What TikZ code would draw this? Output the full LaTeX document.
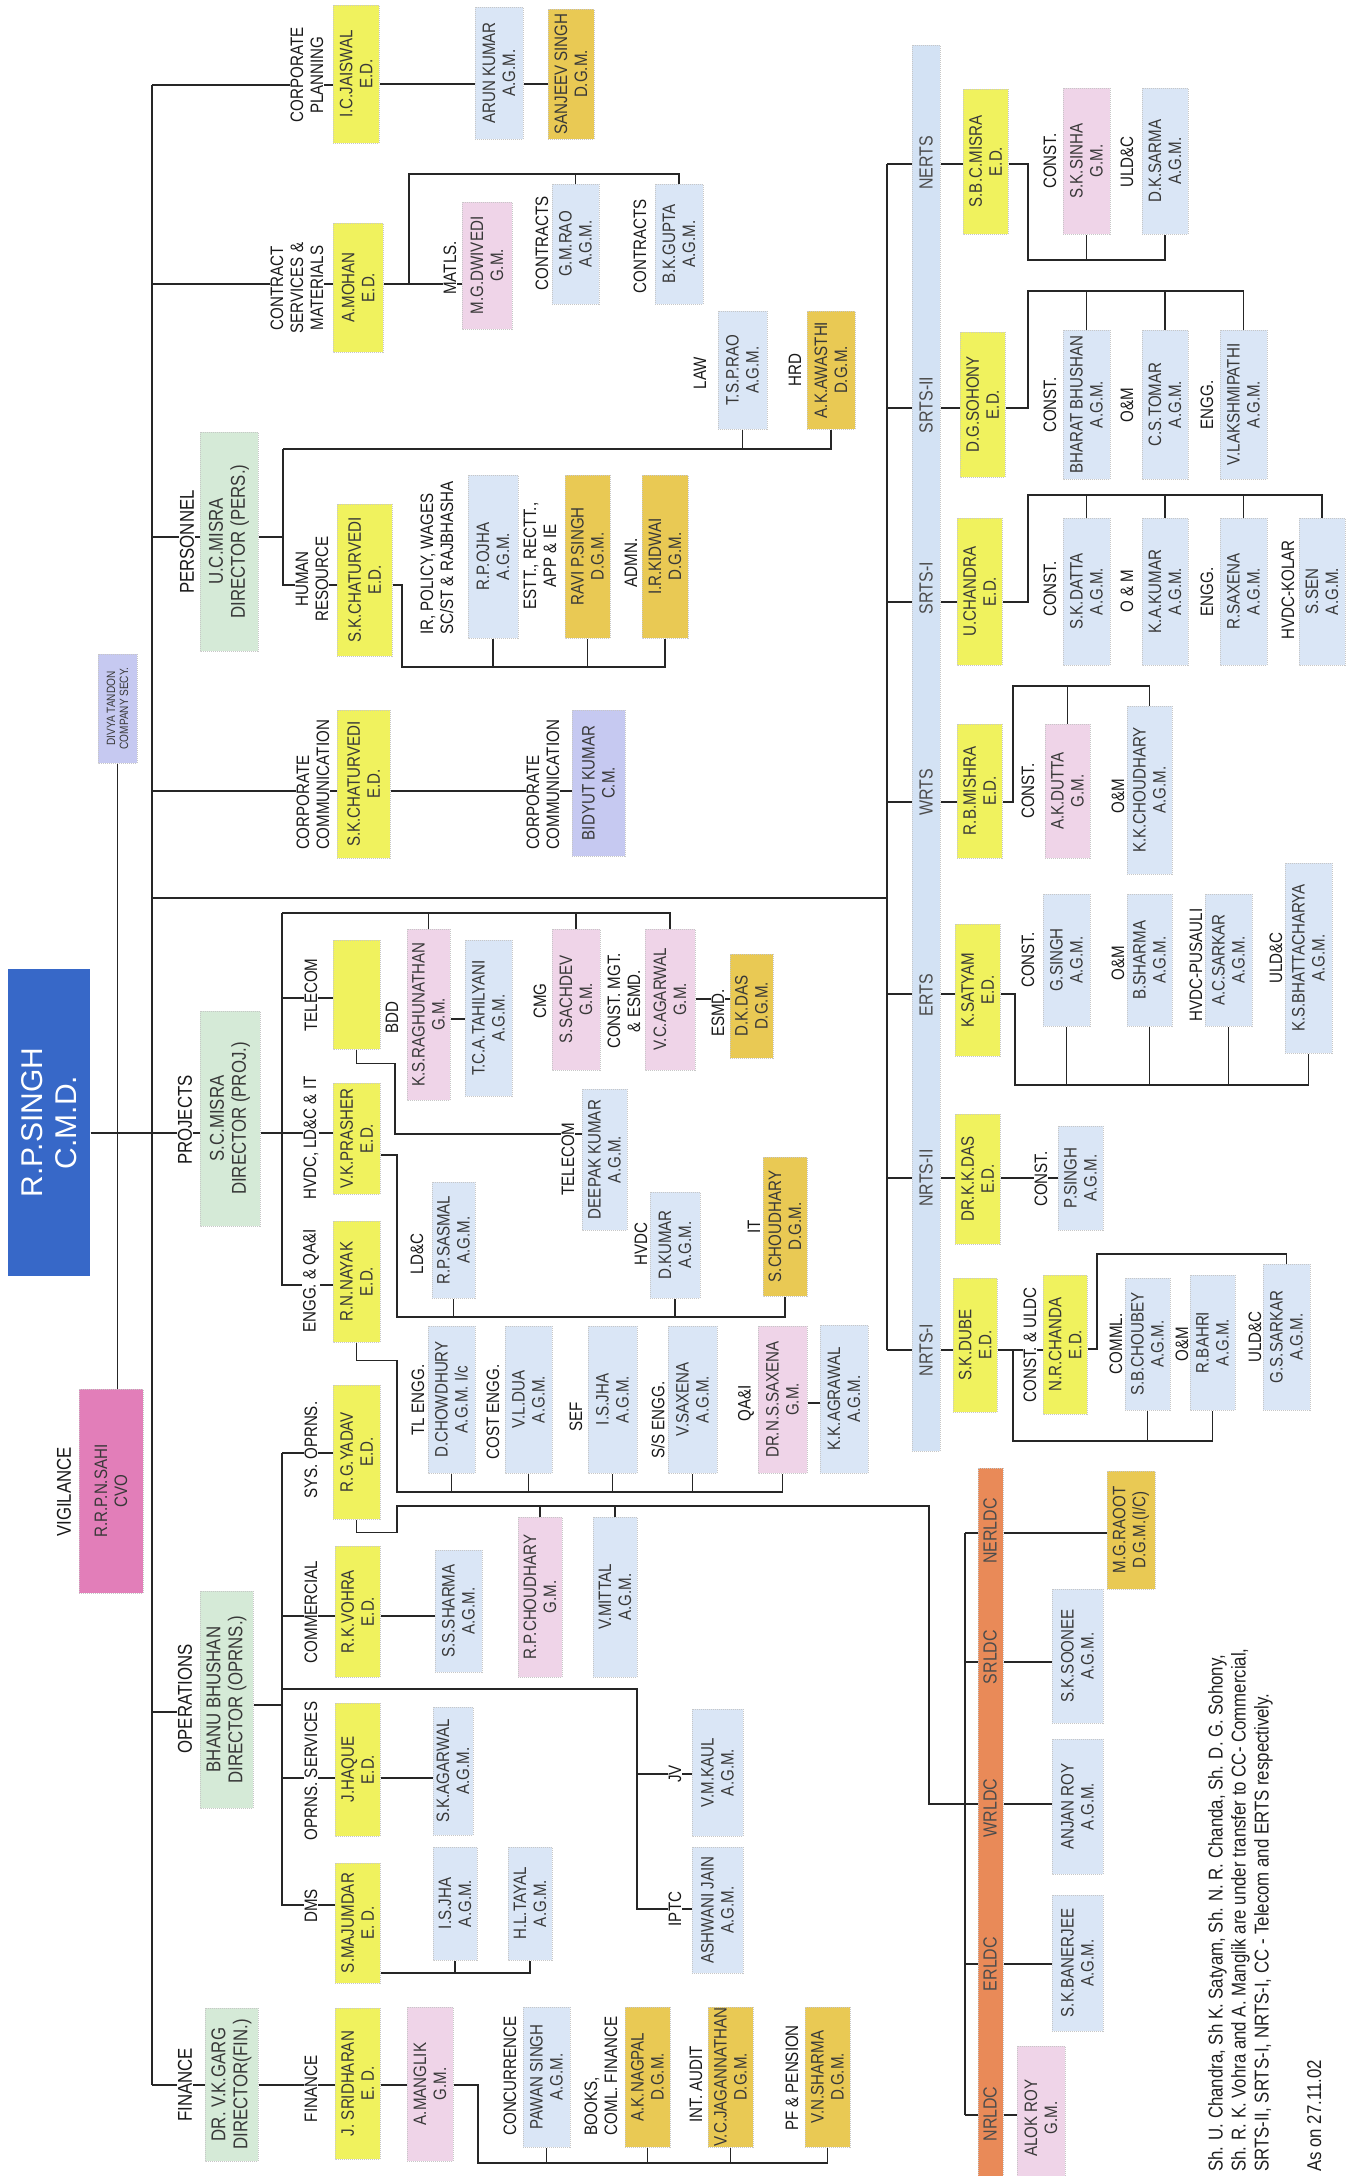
\documentclass[tikz,border=0pt]{standalone}
\usepackage{fontspec}
\setmainfont{Liberation Sans}[FakeStretch=0.84]
\newfontfamily\cmdfont{Liberation Sans}
\usetikzlibrary{calc}
\definecolor{edyel}{HTML}{F0F25E}
\definecolor{dgm}{HTML}{E9C954}
\definecolor{agm}{HTML}{DAE6F6}
\definecolor{gm}{HTML}{EFD4E8}
\definecolor{dir}{HTML}{D5EAD7}
\definecolor{lav}{HTML}{C6C9F1}
\definecolor{cmdb}{HTML}{3768C8}
\definecolor{cvo}{HTML}{E27EB9}
\definecolor{rts}{HTML}{D3E2F4}
\definecolor{ldc}{HTML}{E98A58}
\tikzset{
  box/.style={rotate=90, draw=black!22, densely dotted, line width=1pt, inner sep=0pt, align=center, text=black!78, font=\fontsize{18}{20}\selectfont},
  lbl/.style={rotate=90, inner sep=1pt, align=center, fill=white, text=black!90, font=\fontsize{18}{20}\selectfont},
  big/.style={font=\fontsize{20}{22}\selectfont},
  barlbl/.style={rotate=90, inner sep=0pt, text=black!70, font=\fontsize{19}{21}\selectfont},
  conn/.style={line width=1.5pt, draw=black!85, solid},
}
\newcommand\bx[8][]{\node[box,fill=#7,minimum width={(#6-#4)*1pt},minimum height={(#5-#3)*1pt},#1] (#2) at ({(#3+#5)/2},{(#4+#6)/2}) {#8};}
\newcommand\lb[4][]{\node[lbl,#1] (#2) at (#3) {#4};}
\begin{document}
\begin{tikzpicture}[x=1pt,y=-1pt]
\useasboundingbox (0,0) rectangle (1358,2176);
\clip (0,0) rectangle (1358,2176);
\fill[white] (0,0) rectangle (1358,2176);
% ---------- boxes ----------
\bx[text=white,draw=none,font=\cmdfont\fontsize{30}{34}\selectfont]{cmd}{8}{969}{90}{1276}{cmdb}{R.P.SINGH\\C.M.D.}
\bx[font=\fontsize{12}{13}\selectfont]{divya}{98}{654}{137}{763}{lav}{DIVYA TANDON\\COMPANY SECY.}
\bx{sahi}{79}{1389}{143}{1593}{cvo}{R.R.P.N.SAHI\\CVO}
\bx{jaiswal}{333}{5}{379}{143}{edyel}{I.C.JAISWAL\\E.D.}
\bx{arun}{475}{7}{523}{139}{agm}{ARUN KUMAR\\A.G.M.}
\bx{sanjeev}{548}{9}{594}{139}{dgm}{SANJEEV SINGH\\D.G.M.}
\bx{mohan}{333}{223}{383}{352}{edyel}{A.MOHAN\\E.D.}
\bx{dwivedi}{462}{202}{512}{329}{gm}{M.G.DWIVEDI\\G.M.}
\bx{gmrao}{552}{184}{599}{304}{agm}{G.M.RAO\\A.G.M.}
\bx{bkgupta}{655}{184}{703}{304}{agm}{B.K.GUPTA\\A.G.M.}
\bx[font=\fontsize{20}{22}\selectfont]{ucmisra}{200}{432}{258}{651}{dir}{U.C.MISRA\\DIRECTOR (PERS.)}
\bx{skc1}{337}{504}{392}{656}{edyel}{S.K.CHATURVEDI\\E.D.}
\bx{ojha}{468}{475}{518}{638}{agm}{R.P.OJHA\\A.G.M.}
\bx{ravi}{565}{475}{610}{638}{dgm}{RAVI P.SINGH\\D.G.M.}
\bx{kidwai}{642}{475}{688}{638}{dgm}{I.R.KIDWAI\\D.G.M.}
\bx{tsprao}{718}{311}{767}{429}{agm}{T.S.P.RAO\\A.G.M.}
\bx{awasthi}{807}{311}{855}{429}{dgm}{A.K.AWASTHI\\D.G.M.}
\bx{skc2}{337}{710}{390}{858}{edyel}{S.K.CHATURVEDI\\E.D.}
\bx{bidyut}{572}{710}{625}{856}{lav}{BIDYUT KUMAR\\C.M.}
\bx[font=\fontsize{20}{22}\selectfont]{smisra}{200}{1011}{260}{1226}{dir}{S.C.MISRA\\DIRECTOR (PROJ.)}
\bx{telbox}{333}{940}{380}{1049}{edyel}{}
\bx{ksraghu}{407}{929}{450}{1100}{gm}{K.S.RAGHUNATHAN\\G.M.}
\bx{tahil}{465}{940}{512}{1096}{agm}{T.C.A.TAHILYANI\\A.G.M.}
\bx{sachdev}{552}{929}{600}{1070}{gm}{S.SACHDEV\\G.M.}
\bx{vcagarwal}{645}{929}{695}{1070}{gm}{V.C.AGARWAL\\G.M.}
\bx{dkdas}{730}{954}{773}{1058}{dgm}{D.K.DAS\\D.G.M.}
\bx{prasher}{333}{1083}{380}{1194}{edyel}{V.K.PRASHER\\E.D.}
\bx{nayak}{333}{1221}{380}{1342}{edyel}{R.N.NAYAK\\E.D.}
\bx{sasmal}{432}{1182}{475}{1298}{agm}{R.P.SASMAL\\A.G.M.}
\bx{deepak}{582}{1089}{627}{1230}{agm}{DEEPAK KUMAR\\A.G.M.}
\bx{dkumar}{650}{1192}{700}{1298}{agm}{D.KUMAR\\A.G.M.}
\bx{schoud}{763}{1157}{807}{1296}{dgm}{S.CHOUDHARY\\D.G.M.}
\bx{dchow}{428}{1326}{475}{1473}{agm}{D.CHOWDHURY\\A.G.M. I/c}
\bx{vldua}{505}{1326}{552}{1473}{agm}{V.L.DUA\\A.G.M.}
\bx{isjha}{588}{1326}{637}{1473}{agm}{I.S.JHA\\A.G.M.}
\bx{vsaxena}{668}{1326}{717}{1473}{agm}{V.SAXENA\\A.G.M.}
\bx{dnsaxena}{758}{1326}{807}{1473}{gm}{DR.N.S.SAXENA\\G.M.}
\bx{kkagrawal}{820}{1325}{868}{1473}{agm}{K.K.AGRAWAL\\A.G.M.}
\bx[font=\fontsize{20}{22}\selectfont]{bhanu}{200}{1591}{253}{1808}{dir}{BHANU BHUSHAN\\DIRECTOR (OPRNS.)}
\bx{yadav}{333}{1385}{380}{1519}{edyel}{R.G.YADAV\\E.D.}
\bx{rpchoud}{518}{1517}{562}{1677}{gm}{R.P.CHOUDHARY\\G.M.}
\bx{vmittal}{593}{1517}{637}{1677}{agm}{V.MITTAL\\A.G.M.}
\bx{vohra}{335}{1546}{380}{1677}{edyel}{R.K.VOHRA\\E.D.}
\bx{sssharma}{435}{1550}{482}{1672}{agm}{S.S.SHARMA\\A.G.M.}
\bx{haque}{335}{1703}{380}{1836}{edyel}{J.HAQUE\\E.D.}
\bx{skagarwal}{433}{1707}{473}{1835}{agm}{S.K.AGARWAL\\A.G.M.}
\bx{majumdar}{335}{1863}{380}{1983}{edyel}{S.MAJUMDAR\\E. D.}
\bx{isjha2}{433}{1847}{477}{1960}{agm}{I.S.JHA\\A.G.M.}
\bx{hltayal}{508}{1847}{552}{1960}{agm}{H.L.TAYAL\\A.G.M.}
\bx{kaul}{692}{1709}{743}{1836}{agm}{V.M.KAUL\\A.G.M.}
\bx{ashwani}{692}{1847}{743}{1973}{agm}{ASHWANI JAIN\\A.G.M.}
\bx[font=\fontsize{20}{22}\selectfont]{garg}{205}{2008}{258}{2161}{dir}{DR. V.K.GARG\\DIRECTOR(FIN.)}
\bx{sridharan}{335}{2008}{380}{2159}{edyel}{J. SRIDHARAN\\E. D.}
\bx{manglik}{407}{2007}{453}{2161}{gm}{A.MANGLIK\\G.M.}
\bx{pawan}{523}{2007}{570}{2147}{agm}{PAWAN SINGH\\A.G.M.}
\bx{nagpal}{625}{2007}{670}{2147}{dgm}{A.K.NAGPAL\\D.G.M.}
\bx{jagan}{708}{2007}{753}{2147}{dgm}{V.C.JAGANNATHAN\\D.G.M.}
\bx{vnsharma}{805}{2007}{850}{2147}{dgm}{V.N.SHARMA\\D.G.M.}
\bx{rtsbar}{912}{45}{940}{1451}{rts}{}
\bx{sbcmisra}{963}{89}{1008}{234}{edyel}{S.B.C.MISRA\\E.D.}
\bx{sksinha}{1063}{88}{1110}{234}{gm}{S.K.SINHA\\G.M.}
\bx{dksarma}{1142}{88}{1188}{234}{agm}{D.K.SARMA\\A.G.M.}
\bx{sohony}{960}{332}{1005}{477}{edyel}{D.G.SOHONY\\E.D.}
\bx{bharat}{1063}{330}{1110}{479}{agm}{BHARAT BHUSHAN\\A.G.M.}
\bx{cstomar}{1142}{330}{1188}{479}{agm}{C.S.TOMAR\\A.G.M.}
\bx{vlak}{1220}{330}{1267}{479}{agm}{V.LAKSHMIPATHI\\A.G.M.}
\bx{uchandra}{957}{518}{1002}{665}{edyel}{U.CHANDRA\\E.D.}
\bx{skdatta}{1063}{518}{1110}{665}{agm}{S.K.DATTA\\A.G.M.}
\bx{kakumar}{1142}{518}{1188}{665}{agm}{K.A.KUMAR\\A.G.M.}
\bx{rsaxena}{1220}{518}{1267}{665}{agm}{R.SAXENA\\A.G.M.}
\bx{ssen}{1299}{518}{1345}{665}{agm}{S.SEN\\A.G.M.}
\bx{rbmishra}{957}{724}{1002}{858}{edyel}{R.B.MISHRA\\E.D.}
\bx{akdutta}{1045}{724}{1090}{858}{gm}{A.K.DUTTA\\G.M.}
\bx{kkchoud}{1127}{706}{1172}{874}{agm}{K.K.CHOUDHARY\\A.G.M.}
\bx{ksatyam}{955}{924}{1000}{1056}{edyel}{K.SATYAM\\E.D.}
\bx{gsingh}{1043}{894}{1090}{1026}{agm}{G.SINGH\\A.G.M.}
\bx{bsharma}{1127}{894}{1172}{1026}{agm}{B.SHARMA\\A.G.M.}
\bx{acsarkar}{1205}{894}{1252}{1026}{agm}{A.C.SARKAR\\A.G.M.}
\bx{ksbhatt}{1285}{863}{1332}{1053}{agm}{K.S.BHATTACHARYA\\A.G.M.}
\bx{kkdas}{955}{1114}{1000}{1244}{edyel}{DR.K.K.DAS\\E.D.}
\bx{psingh}{1058}{1126}{1103}{1230}{agm}{P.SINGH\\A.G.M.}
\bx{skdube}{953}{1278}{997}{1412}{edyel}{S.K.DUBE\\E.D.}
\bx{nrchanda}{1043}{1275}{1087}{1414}{edyel}{N.R.CHANDA\\E.D.}
\bx{sbchoubey}{1125}{1278}{1170}{1410}{agm}{S.B.CHOUBEY\\A.G.M.}
\bx{rbahri}{1190}{1275}{1235}{1410}{agm}{R.BAHRI\\A.G.M.}
\bx{gssarkar}{1263}{1264}{1310}{1410}{agm}{G.S.SARKAR\\A.G.M.}
\bx{ldcbar}{978}{1468}{1003}{2190}{ldc}{}
\bx{raoot}{1107}{1471}{1155}{1589}{dgm}{M.G.RAOOT\\D.G.M.(I/C)}
\bx{soonee}{1052}{1589}{1103}{1723}{agm}{S.K.SOONEE\\A.G.M.}
\bx{anjan}{1052}{1739}{1103}{1874}{agm}{ANJAN ROY\\A.G.M.}
\bx{banerjee}{1052}{1895}{1103}{2031}{agm}{S.K.BANERJEE\\A.G.M.}
\bx{alok}{1017}{2046}{1065}{2190}{gm}{ALOK ROY\\G.M.}
% ---------- connectors ----------
\draw[conn] (152,85) -- (152,2085);
\draw[conn] (152,85) -- (jaiswal.north |- 0,85);
\draw[conn] (jaiswal.south |- 0,84) -- (arun.north |- 0,84);
\draw[conn] (arun.south |- 0,84) -- (sanjeev.north |- 0,84);
\draw[conn] (152,284) -- (mohan.north |- 0,284);
\draw[conn] (mohan.south |- 0,284) -- (dwivedi.north |- 0,284);
\draw[conn] (409,284) -- (409,174) -- (bkgupta.east |- 0,174) -- (bkgupta.east);
\draw[conn] (gmrao.east |- 0,174) -- (gmrao.east);
\draw[conn] (152,537) -- (ucmisra.north |- 0,537);
\draw[conn] (ucmisra.south |- 0,537) -- (283,537);
\draw[conn] (283,449) -- (283,585) -- (skc1.north |- 0,585);
\draw[conn] (283,449) -- (awasthi.west |- 0,449) -- (awasthi.west);
\draw[conn] (tsprao.west |- 0,449) -- (tsprao.west);
\draw[conn] (skc1.south |- 0,585) -- (402,585) -- (402,667) -- (kidwai.west |- 0,667) -- (kidwai.west);
\draw[conn] (ojha.west |- 0,667) -- (ojha.west);
\draw[conn] (ravi.west |- 0,667) -- (ravi.west);
\draw[conn] (152,791) -- (skc2.north |- 0,791);
\draw[conn] (skc2.south |- 0,791) -- (bidyut.north |- 0,791);
\draw[conn] (divya.west) -- (divya.west |- sahi.east);
% RTS
\draw[conn] (152,898) -- (887,898);
\draw[conn] (887,164) -- (887,1350);
\foreach \yy in {164,408,602,802,994,1178,1350}{\draw[conn] (887,\yy) -- (rtsbar.north |- 0,\yy);}
\draw[conn] (rtsbar.south |- 0,164) -- (sbcmisra.north |- 0,164);
\draw[conn] (sbcmisra.south |- 0,164) -- (1028,164) -- (1028,260) -- (dksarma.west |- 0,260) -- (dksarma.west);
\draw[conn] (sksinha.west |- 0,260) -- (sksinha.west);
\draw[conn] (rtsbar.south |- 0,408) -- (sohony.north |- 0,408);
\draw[conn] (sohony.south |- 0,408) -- (1028,408) -- (1028,291) -- (vlak.east |- 0,291) -- (vlak.east);
\draw[conn] (bharat.east |- 0,291) -- (bharat.east);
\draw[conn] (cstomar.east |- 0,291) -- (cstomar.east);
\draw[conn] (rtsbar.south |- 0,602) -- (uchandra.north |- 0,602);
\draw[conn] (uchandra.south |- 0,602) -- (1028,602) -- (1028,495) -- (ssen.east |- 0,495) -- (ssen.east);
\draw[conn] (skdatta.east |- 0,495) -- (skdatta.east);
\draw[conn] (kakumar.east |- 0,495) -- (kakumar.east);
\draw[conn] (rsaxena.east |- 0,495) -- (rsaxena.east);
\draw[conn] (rtsbar.south |- 0,802) -- (rbmishra.north |- 0,802);
\draw[conn] (rbmishra.south |- 0,802) -- (1013,802) -- (1013,686) -- (kkchoud.east |- 0,686) -- (kkchoud.east);
\draw[conn] (akdutta.east |- 0,686) -- (akdutta.east);
\draw[conn] (rtsbar.south |- 0,994) -- (ksatyam.north |- 0,994);
\draw[conn] (ksatyam.south |- 0,994) -- (1015,994) -- (1015,1085) -- (ksbhatt.west |- 0,1085) -- (ksbhatt.west);
\draw[conn] (gsingh.west |- 0,1085) -- (gsingh.west);
\draw[conn] (bsharma.west |- 0,1085) -- (bsharma.west);
\draw[conn] (acsarkar.west |- 0,1085) -- (acsarkar.west);
\draw[conn] (rtsbar.south |- 0,1178) -- (kkdas.north |- 0,1178);
\draw[conn] (kkdas.south |- 0,1178) -- (psingh.north |- 0,1178);
\draw[conn] (rtsbar.south |- 0,1350) -- (skdube.north |- 0,1350);
\draw[conn] (skdube.south |- 0,1350) -- (nrchanda.north |- 0,1350);
\draw[conn] (1013,1350) -- (1013,1441) -- (rbahri.west |- 0,1441) -- (rbahri.west);
\draw[conn] (sbchoubey.west |- 0,1441) -- (sbchoubey.west);
\draw[conn] (nrchanda.south |- 0,1349) -- (1097,1349) -- (1097,1254) -- (gssarkar.east |- 0,1254) -- (gssarkar.east);
% Projects
\draw[conn] (cmd.south |- 0,1133) -- (smisra.north |- 0,1133);
\draw[conn] (smisra.south |- 0,1133) -- (prasher.north |- 0,1133);
\draw[conn] (282,913) -- (282,1285) -- (nayak.north |- 0,1285);
\draw[conn] (282,913) -- (vcagarwal.east |- 0,913) -- (vcagarwal.east);
\draw[conn] (ksraghu.east |- 0,913) -- (ksraghu.east);
\draw[conn] (sachdev.east |- 0,913) -- (sachdev.east);
\draw[conn] (282,998) -- (telbox.north |- 0,998);
\draw[conn] (ksraghu.south |- 0,1019) -- (tahil.north |- 0,1019);
\draw[conn] (vcagarwal.south |- 0,999) -- (dkdas.north |- 0,999);
\draw[conn] (telbox.west) -- ++(0,14) -| (395,1134) -- (deepak.north |- 0,1134);
\draw[conn] (prasher.south |- 0,1155) -- (397,1155) -- (397,1317) -- (schoud.west |- 0,1317) -- (schoud.west);
\draw[conn] (sasmal.west |- 0,1317) -- (sasmal.west);
\draw[conn] (dkumar.west |- 0,1317) -- (dkumar.west);
\draw[conn] (nayak.west) -- ++(0,18) -| (397,1492) -- (dnsaxena.west |- 0,1492) -- (dnsaxena.west);
\draw[conn] (dchow.west |- 0,1492) -- (dchow.west);
\draw[conn] (vldua.west |- 0,1492) -- (vldua.west);
\draw[conn] (isjha.west |- 0,1492) -- (isjha.west);
\draw[conn] (vsaxena.west |- 0,1492) -- (vsaxena.west);
\draw[conn] (dnsaxena.south |- 0,1403) -- (kkagrawal.north |- 0,1403);
% Operations
\draw[conn] (bhanu.south |- 0,1705) -- (282,1705);
\draw[conn] (282,1453) -- (282,1905) -- (majumdar.north |- 0,1905);
\draw[conn] (282,1453) -- (yadav.north |- 0,1453);
\draw[conn] (282,1616) -- (vohra.north |- 0,1616);
\draw[conn] (vohra.south |- 0,1616) -- (sssharma.north |- 0,1616);
\draw[conn] (282,1689) -- (637,1689) -- (637,1909) -- (ashwani.north |- 0,1909);
\draw[conn] (637,1774) -- (kaul.north |- 0,1774);
\draw[conn] (282,1778) -- (haque.north |- 0,1778);
\draw[conn] (haque.south |- 0,1778) -- (skagarwal.north |- 0,1778);
\draw[conn] (majumdar.south |- 0,1973) -- (hltayal.west |- 0,1973) -- (hltayal.west);
\draw[conn] (isjha2.west |- 0,1973) -- (isjha2.west);
\draw[conn] (yadav.west) -- ++(0,13) -| (397,1506) -- (929,1506) -- (929,1804) -- (965,1804);
\draw[conn] (rpchoud.east |- 0,1506) -- (rpchoud.east);
\draw[conn] (vmittal.east |- 0,1506) -- (vmittal.east);
% LDC
\draw[conn] (965,1533) -- (965,2115);
\foreach \yy in {1533,1662,1804,1964,2115}{\draw[conn] (965,\yy) -- (ldcbar.north |- 0,\yy);}
\draw[conn] (ldcbar.south |- 0,1533) -- (raoot.north |- 0,1533);
\draw[conn] (ldcbar.south |- 0,1662) -- (soonee.north |- 0,1662);
\draw[conn] (ldcbar.south |- 0,1804) -- (anjan.north |- 0,1804);
\draw[conn] (ldcbar.south |- 0,1964) -- (banerjee.north |- 0,1964);
\draw[conn] (ldcbar.south |- 0,2115) -- (alok.north |- 0,2115);
% Finance
\draw[conn] (152,2085) -- (garg.north |- 0,2085);
\draw[conn] (garg.south |- 0,2085) -- (sridharan.north |- 0,2085);
\draw[conn] (sridharan.south |- 0,2085) -- (manglik.north |- 0,2085);
\draw[conn] (manglik.south |- 0,2085) -- (478,2085) -- (478,2163) -- (vnsharma.west |- 0,2163) -- (vnsharma.west);
\draw[conn] (pawan.west |- 0,2163) -- (pawan.west);
\draw[conn] (nagpal.west |- 0,2163) -- (nagpal.west);
\draw[conn] (jagan.west |- 0,2163) -- (jagan.west);
% ---------- bar labels ----------
\node[barlbl] (bNERTS) at (926,163) {NERTS};
\node[barlbl] (bSRTS2) at (926,405) {SRTS-II};
\node[barlbl] (bSRTS1) at (926,588) {SRTS-I};
\node[barlbl] (bWRTS) at (926,792) {WRTS};
\node[barlbl] (bERTS) at (926,995) {ERTS};
\node[barlbl] (bNRTS2) at (926,1178) {NRTS-II};
\node[barlbl] (bNRTS1) at (926,1350) {NRTS-I};
\node[barlbl] (bNERLDC) at (990,1531) {NERLDC};
\node[barlbl] (bSRLDC) at (990,1657) {SRLDC};
\node[barlbl] (bWRLDC) at (990,1808) {WRLDC};
\node[barlbl] (bERLDC) at (990,1964) {ERLDC};
\node[barlbl] (bNRLDC) at (990,2114) {NRLDC};
% ---------- labels ----------
\lb{lCP}{307,75}{CORPORATE\\PLANNING}
\lb{lCSM}{297,288}{CONTRACT\\SERVICES \&\\MATERIALS}
\lb{lMAT}{450,268}{MATLS.}
\lb{lCON1}{542,243}{CONTRACTS}
\lb{lCON2}{640,246}{CONTRACTS}
\lb[big]{lPER}{187,542}{PERSONNEL}
\lb{lHR}{312,579}{HUMAN\\RESOURCE}
\lb[align=left]{lIR}{437,558}{IR, POLICY, WAGES\\SC/ST \& RAJBHASHA}
\lb{lEST}{540,556}{ESTT., RECTT.,\\APP \& IE}
\lb{lADM}{631,563}{ADMN.}
\lb{lLAW}{700,373}{LAW}
\lb{lHRD}{795,370}{HRD}
\lb[align=left]{lCC1}{313,785}{CORPORATE\\COMMUNICATION}
\lb[align=left]{lCC2}{543,785}{CORPORATE\\COMMUNICATION}
\lb{lc1}{1050,161}{CONST.}
\lb{lc2}{1127,162}{ULD\&C}
\lb{lc3}{1050,405}{CONST.}
\lb{lc4}{1127,405}{O\&M}
\lb{lc5}{1207,405}{ENGG.}
\lb{lc6}{1050,589}{CONST.}
\lb{lc7}{1127,591}{O \& M}
\lb{lc8}{1207,592}{ENGG.}
\lb{lc9}{1288,590}{HVDC-KOLAR}
\lb{lc10}{1028,791}{CONST.}
\lb{lc11}{1118,796}{O\&M}
\lb{lc12}{1028,960}{CONST.}
\lb{lc13}{1118,963}{O\&M}
\lb{lc14}{1196,965}{HVDC-PUSAULI}
\lb{lc15}{1276,958}{ULD\&C}
\lb{lc16}{1041,1179}{CONST.}
\lb{lc17}{1030,1345}{CONST. \& ULDC}
\lb{lc18}{1116,1344}{COMML.}
\lb{lc19}{1182,1344}{O\&M}
\lb{lc20}{1255,1337}{ULD\&C}
\lb[big]{lPRJ}{185,1120}{PROJECTS}
\lb{lTEL}{311,995}{TELECOM}
\lb{lBDD}{392,1018}{BDD}
\lb{lCMG}{540,1001}{CMG}
\lb{lCME}{624,1001}{CONST. MGT.\\\& ESMD.}
\lb{lESMD}{718,1013}{ESMD.}
\lb{lHLI}{311,1138}{HVDC, LD\&C \& IT}
\lb{lEQA}{311,1281}{ENGG. \& QA\&I}
\lb{lLDC}{417,1254}{LD\&C}
\lb{lTEL2}{568,1159}{TELECOM}
\lb{lHVDC}{641,1244}{HVDC}
\lb{lIT}{754,1227}{IT}
\lb{lTLE}{418,1400}{TL ENGG.}
\lb{lCOST}{493,1412}{COST ENGG.}
\lb{lSEF}{576,1417}{SEF}
\lb{lSSE}{658,1420}{S/S ENGG.}
\lb{lQAI}{746,1403}{QA\&I}
\lb[big]{lVIG}{64,1492}{VIGILANCE}
\lb[big]{lOPS}{185,1699}{OPERATIONS}
\lb{lSYS}{311,1450}{SYS. OPRNS.}
\lb{lCOM}{311,1612}{COMMERCIAL}
\lb{lOSV}{311,1771}{OPRNS. SERVICES}
\lb{lDMS}{311,1906}{DMS}
\lb{lJV}{675,1774}{JV}
\lb{lIPTC}{675,1909}{IPTC}
\lb[big]{lFIN}{185,2085}{FINANCE}
\lb{lFIN2}{311,2089}{FINANCE}
\lb{lCONC}{510,2076}{CONCURRENCE}
\lb[align=left]{lBOOK}{601,2076}{BOOKS,\\COML. FINANCE}
\lb{lINT}{696,2084}{INT. AUDIT}
\lb{lPF}{792,2078}{PF \& PENSION}
\draw[conn] (152,1712) -- (lOPS.north |- 0,1712);
% ---------- notes ----------
\node[rotate=90, anchor=north west, align=left, inner sep=0pt, text=black!88, font=\fontsize{20}{23}\selectfont] (note) at (1208,2172) {Sh. U. Chandra, Sh K. Satyam, Sh. N. R. Chanda, Sh. D. G. Sohony,\\Sh. R. K. Vohra and A. Manglik are under transfer to CC- Commercial,\\SRTS-II, SRTS-I, NRTS-I, CC - Telecom and ERTS respectively.};
\node[rotate=90, anchor=north west, inner sep=0pt, text=black!88, font=\fontsize{20}{23}\selectfont] (ason) at (1307,2172) {As on 27.11.02};
\end{tikzpicture}
\end{document}
